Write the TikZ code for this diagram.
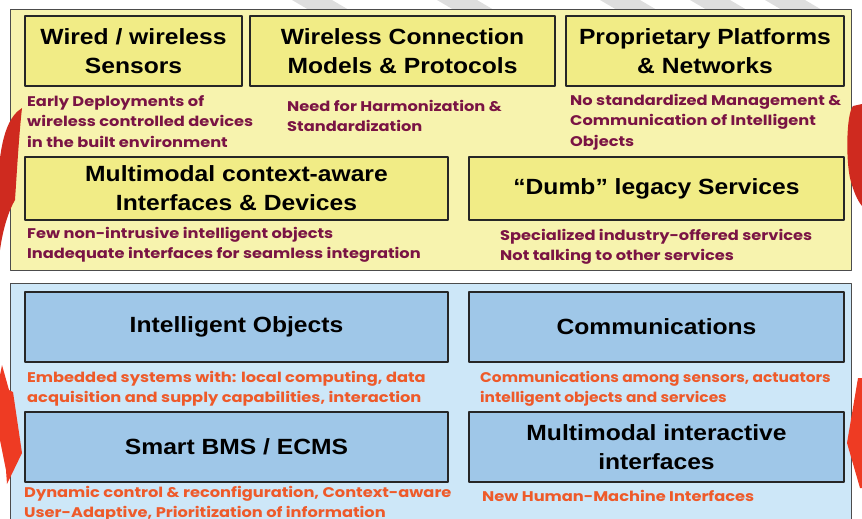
\documentclass[tikz,border=0pt]{standalone}
\usepackage{fontspec}
\setmainfont{Liberation Sans}[FakeStretch=1.12]
\newfontfamily\capfont{Poppins}[FakeStretch=1.16]
\newfontfamily\capnarrow{Poppins}[FakeStretch=1.1]
\usepackage{tikz}
\usetikzlibrary{calc,positioning,backgrounds}
\definecolor{panelyellow}{HTML}{F7F3AE}
\definecolor{boxyellow}{HTML}{F1EC86}
\definecolor{panelblue}{HTML}{CDE7F8}
\definecolor{boxblue}{HTML}{9FC7E8}
\definecolor{capmaroon}{HTML}{7A1444}
\definecolor{caporange}{HTML}{EE5A2A}
\definecolor{arrowred}{HTML}{CF2A1F}
\definecolor{arroworange}{HTML}{EE3B23}

\begin{document}
\begin{tikzpicture}[x=1pt,y=-1pt,line join=round,
	layer/.style={draw=black!70,line width=0.8pt},
	ybox/.style={draw=black!85,line width=1.6pt,fill=boxyellow,minimum height=70pt,
		align=center,font=\fontsize{22}{29}\selectfont\bfseries,inner sep=0pt},
	bbox/.style={ybox,fill=boxblue},
	capy/.style={anchor=north west,align=left,inner sep=0pt,text=capmaroon,
		font=\capfont\fontsize{14}{20.5}\selectfont\bfseries},
	capb/.style={capy,text=caporange}]
	\useasboundingbox (0,0) rectangle (862,519);
	% faint stripes behind the top panel
	\foreach \s in {292,437,600,690,765}
		\fill[black!13] (\s,0) -- (\s+40,0) -- (\s+57,10) -- (\s+17,10) -- cycle;

	% the two layers
	\filldraw[layer,fill=panelyellow] (10,9) rectangle (851,270);
	\filldraw[layer,fill=panelblue] (10,283) rectangle (851,530);

	% yellow layer
	\node[ybox,minimum width=217pt] (sensors) at (133.5,51) {Wired / wireless\\Sensors};
	\node[ybox,minimum width=305pt] (protocols) at (402.5,51) {Wireless Connection\\Models \& Protocols};
	\node[ybox,minimum width=278pt] (platforms) at (705,51) {Proprietary Platforms\\\& Networks};
	\node[ybox,minimum width=423pt,minimum height=63pt] (devices) at (236.5,188.5) {Multimodal context-aware\\Interfaces \& Devices};
	\node[ybox,minimum width=375pt,minimum height=63pt] (legacy) at (656.5,188.5) {\textquotedblleft Dumb\textquotedblright\ legacy Services};

	\node[capy] (early) at (27,95) {Early Deployments of\\wireless controlled devices\\in the built environment};
	\node[capy] (harmon) at (287,100) {Need for Harmonization \&\\Standardization};
	\node[capy] (nostd) at (570,94) {No standardized Management \&\\Communication of Intelligent\\Objects};
	\node[capy] (few) at (27,227) {Few non-intrusive intelligent objects\\Inadequate interfaces for seamless integration};
	\node[capy] (special) at (500,229) {Specialized industry-offered services\\Not talking to other services};

	% blue layer
	\node[bbox,minimum width=423pt] (objects) at (236.5,327) {Intelligent Objects};
	\node[bbox,minimum width=375pt] (comms) at (656.5,327) {Communications};
	\node[bbox,minimum width=423pt] (bms) at (236.5,447) {Smart BMS / ECMS};
	\node[bbox,minimum width=375pt] (hmi) at (656.5,447) {Multimodal interactive\\interfaces};

	\node[capb] (embedded) at (27,371) {Embedded systems with: local computing, data\\acquisition and supply capabilities, interaction};
	\node[capb,font=\capnarrow\fontsize{14}{20.5}\selectfont\bfseries] (among) at (480,371) {Communications among sensors, actuators\\intelligent objects and services};
	\node[capb] (dynamic) at (24,486) {Dynamic control \& reconfiguration, Context-aware\\User-Adaptive, Prioritization of information};
	\node[capb] (newhmi) at (482,490) {New Human-Machine Interfaces};

	% arrows at the edges
	\fill[arrowred] (22,108) .. controls (9,116) and (3,135) .. (0,158) -- (0,250)
		.. controls (3,228) and (9,210) .. (15,200) .. controls (17,170) and (19,135) .. cycle;
	\fill[arroworange] (2,365) -- (9,390) -- (13,392) -- (22,453) -- (7,484) -- (6,470) -- (0,440) -- (0,375) -- cycle;
	\fill[arrowred] (862,104) -- (853,106) .. controls (846,115) and (846,160) .. (850,178)
		.. controls (853,190) and (857,200) .. (862,206) -- cycle;
	\fill[arroworange] (858,378) -- (847,443) -- (860,488) -- (862,488) -- (862,378) -- cycle;
\end{tikzpicture}
\end{document}
